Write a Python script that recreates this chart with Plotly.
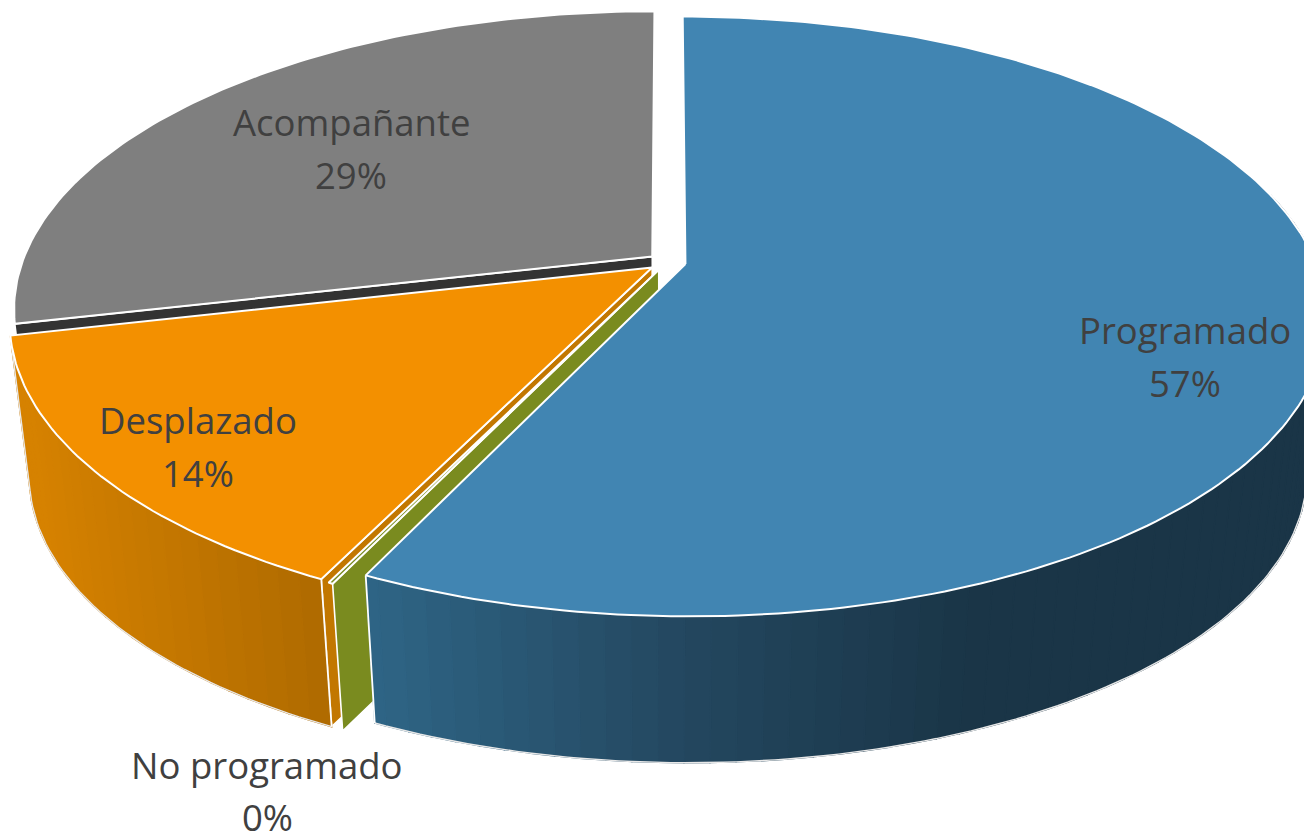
import numpy as np
import plotly.graph_objects as go

categories = ["Programado", "No programado", "Desplazado", "Acompañante"]
values = [57.1, 0.1, 14.2, 28.6]
explode = [0.03, 0.03, 0.03, 0.03]

top_colors = ["#4185B2", "#7A8B1F", "#F39000", "#7F7F7F"]
face_colors = ["#2F6586", "#7A8B1F", "#C27700", "#333333"]
wall_stops = [
    [(370, (47, 101, 134)), (680, (36, 72, 96)), (980, (26, 53, 71)), (1304, (26, 53, 71))],
    None,
    [(30, (214, 130, 0)), (330, (174, 106, 0))],
    None,
]
label_xy = [(1185, 330, 383), (267, 765, 817), (198, 420, 473), (351, 122, 175)]

CX, CY, A, B, K = 667, 262, 630, 290, 0.175
DROP, SCALE = 157, 0.97


def project(px, py, bottom=False):
    w = 1 - K * py
    x, y = A * px / w, B * py / w
    if bottom:
        return CX + SCALE * x, CY + SCALE * y + DROP
    return CX + x, CY + y


def unit(theta):
    return np.sin(theta), -np.cos(theta)


fig = go.Figure()


def poly(xs, ys, fill, line, width):
    fig.add_trace(go.Scatter(
        x=list(xs), y=list(ys), mode="lines", fill="toself", fillcolor=fill,
        line=dict(color=line, width=width), hoverinfo="skip", showlegend=False,
    ))


def stroke(xs, ys, color, width):
    fig.add_trace(go.Scatter(
        x=list(xs), y=list(ys), mode="lines", line=dict(color=color, width=width),
        hoverinfo="skip", showlegend=False,
    ))


fractions = np.array(values) / sum(values)
starts = np.concatenate([[0], np.cumsum(fractions)[:-1]]) * 2 * np.pi
ends = starts + fractions * 2 * np.pi

for i in [3, 2, 1, 0]:
    t0, t1 = starts[i], ends[i]
    mx, my = unit((t0 + t1) / 2)
    ox, oy = explode[i] * mx, explode[i] * my
    n = max(3, int((t1 - t0) / np.radians(1)))
    th = np.linspace(t0, t1, n)
    ux, uy = unit(th)
    topx, topy = project(ox + ux, oy + uy)
    botx, boty = project(ox + ux, oy + uy, True)
    ax, ay = project(ox, oy)
    bx, by = project(ox, oy, True)

    # cut face on the clockwise-start edge of the slice
    if i != 0:
        poly([topx[0], ax, bx, botx[0], topx[0]], [topy[0], ay, by, boty[0], topy[0]],
             face_colors[i], "white", 1.6)

    # outer wall as shaded strips
    stops = wall_stops[i]
    if stops is not None:
        idx = np.where(uy > -0.25)[0]
        xs_s = [s[0] for s in stops]
        steps = list(idx[::2])
        if steps[-1] != idx[-1]:
            steps.append(idx[-1])
        for a, b in zip(steps[:-1], steps[1:]):
            mid = (topx[a] + topx[b]) / 2
            c = [int(np.interp(mid, xs_s, [s[1][q] for s in stops])) for q in range(3)]
            col = "rgb(%d,%d,%d)" % tuple(c)
            sel = np.arange(a, b + 1)
            poly(list(topx[sel]) + list(botx[sel][::-1]) + [topx[a]],
                 list(topy[sel]) + list(boty[sel][::-1]) + [topy[a]], col, col, 1.4)
        if i == 0:
            out = idx[np.argmax(botx[idx]):]
            stroke(botx[out], boty[out], "#E8E8E8", 1.4)
            stroke([topx[-1], botx[-1]], [topy[-1], boty[-1]], "white", 1.8)
        else:
            stroke(botx[idx], boty[idx], "#E8E8E8", 1.4)
            stroke([topx[-1], botx[-1]], [topy[-1], boty[-1]], "#E8E8E8", 1.4)
            stroke([topx[0], botx[0]], [topy[0], boty[0]], "white", 1.8)

    # top surface
    poly([ax] + list(topx) + [ax], [ay] + list(topy) + [ay], top_colors[i], "white", 2)

annotations = []
for name, val, (lx, y1, y2) in zip(categories, values, label_xy):
    for txt, ly in ((name, y1), (f"{round(val)}%", y2)):
        annotations.append(dict(
            x=lx, y=ly, xref="x", yref="y", text=txt, showarrow=False,
            xanchor="center", yanchor="middle",
            font=dict(family="Open Sans", size=36.5, color="#404040"),
        ))

fig.update_layout(
    width=1304, height=836, margin=dict(l=0, r=0, t=0, b=0),
    paper_bgcolor="white", plot_bgcolor="white", showlegend=False,
    xaxis=dict(range=[0, 1304], visible=False, fixedrange=True),
    yaxis=dict(range=[836, 0], visible=False, fixedrange=True),
    annotations=annotations,
)
fig.write_html("out.html", post_script="document.body.style.margin='0';",
               config={"displayModeBar": False})
